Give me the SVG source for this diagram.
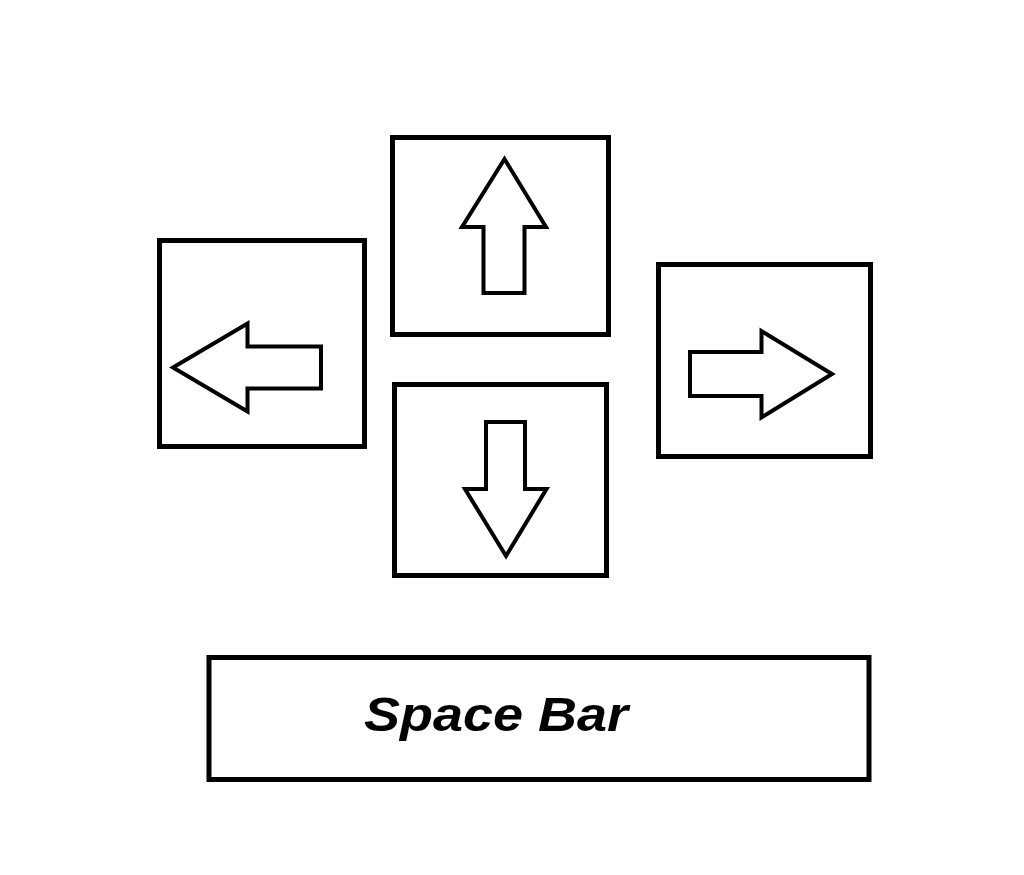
<svg xmlns="http://www.w3.org/2000/svg" width="1024" height="875" viewBox="0 0 1024 875">
<style>
.key{fill:#fff;stroke:#000;stroke-width:5}
.arr{fill:#fff;stroke:#000;stroke-width:4;stroke-linejoin:miter}
.lbl{font-family:"Liberation Sans",Arial,sans-serif;font-weight:bold;font-style:italic;font-size:48px;fill:#000}
</style>
<rect width="1024" height="875" fill="#fff"/>
<g id="key-up">
<rect class="key" x="392.5" y="137.5" width="216" height="197"/>
<polygon class="arr" points="504.5,159 462,227 483.5,227 483.5,293 524.5,293 524.5,227 546,227"/>
</g>
<g id="key-left">
<rect class="key" x="159.5" y="240.5" width="205" height="206"/>
<polygon class="arr" points="173,367.5 247.5,323.5 247.5,346.5 321,346.5 321,388.5 247.5,388.5 247.5,411.5"/>
</g>
<g id="key-down">
<rect class="key" x="394.5" y="384.5" width="212" height="191"/>
<polygon class="arr" points="486,422 525,422 525,489 546.5,489 506,556 465,489 486,489"/>
</g>
<g id="key-right">
<rect class="key" x="658.5" y="264.5" width="212" height="192"/>
<polygon class="arr" points="690,352 761.5,352 761.5,331 832,374 761.5,417.5 761.5,396 690,396"/>
</g>
<g id="key-space">
<rect class="key" x="209" y="657.5" width="660" height="122"/>
<text class="lbl" x="364" y="731" textLength="264" lengthAdjust="spacingAndGlyphs">Space Bar</text>
</g>
<g id="connectors"/>
</svg>
